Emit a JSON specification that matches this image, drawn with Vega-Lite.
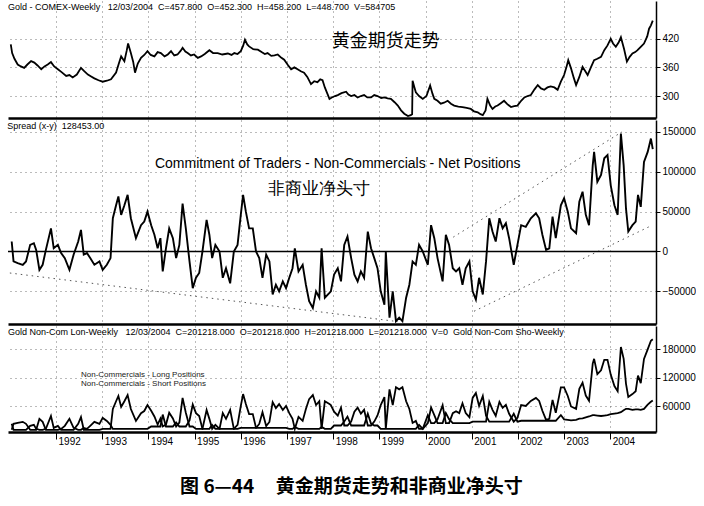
{
  "$schema": "https://vega.github.io/schema/vega-lite/v6.json",
  "padding": {"left": 7, "top": 1, "right": 0, "bottom": 4},
  "spacing": 2,
  "title": {
    "text": "图 6—44\u00a0\u00a0\u00a0\u00a0\u00a0黄金期货走势和非商业净头寸",
    "orient": "bottom",
    "anchor": "middle",
    "font": "Noto Sans CJK SC",
    "fontSize": 19,
    "fontWeight": "bold",
    "color": "black",
    "offset": 32
  },
  "datasets": {
    "gold": [
      {"t": 1991.02, "g": 408}, {"t": 1991.05, "g": 390}, {"t": 1991.10, "g": 378}, {"t": 1991.17, "g": 366},
      {"t": 1991.24, "g": 362}, {"t": 1991.31, "g": 359}, {"t": 1991.38, "g": 366}, {"t": 1991.46, "g": 373},
      {"t": 1991.53, "g": 370}, {"t": 1991.60, "g": 364}, {"t": 1991.68, "g": 356}, {"t": 1991.75, "g": 362},
      {"t": 1991.82, "g": 366}, {"t": 1991.89, "g": 371}, {"t": 1991.96, "g": 362}, {"t": 1992.04, "g": 356},
      {"t": 1992.12, "g": 350}, {"t": 1992.22, "g": 342}, {"t": 1992.29, "g": 344}, {"t": 1992.36, "g": 339},
      {"t": 1992.45, "g": 345}, {"t": 1992.54, "g": 359}, {"t": 1992.61, "g": 352}, {"t": 1992.69, "g": 345},
      {"t": 1992.76, "g": 341}, {"t": 1992.83, "g": 337}, {"t": 1992.92, "g": 333}, {"t": 1993.01, "g": 330},
      {"t": 1993.10, "g": 332}, {"t": 1993.19, "g": 335}, {"t": 1993.30, "g": 349}, {"t": 1993.36, "g": 368},
      {"t": 1993.41, "g": 383}, {"t": 1993.48, "g": 373}, {"t": 1993.53, "g": 395}, {"t": 1993.56, "g": 410},
      {"t": 1993.62, "g": 390}, {"t": 1993.67, "g": 372}, {"t": 1993.71, "g": 349}, {"t": 1993.77, "g": 368},
      {"t": 1993.84, "g": 380}, {"t": 1993.91, "g": 386}, {"t": 1993.98, "g": 394}, {"t": 1994.05, "g": 386},
      {"t": 1994.13, "g": 383}, {"t": 1994.20, "g": 392}, {"t": 1994.27, "g": 390}, {"t": 1994.35, "g": 383},
      {"t": 1994.42, "g": 387}, {"t": 1994.49, "g": 394}, {"t": 1994.56, "g": 385}, {"t": 1994.63, "g": 387},
      {"t": 1994.70, "g": 395}, {"t": 1994.74, "g": 401}, {"t": 1994.80, "g": 393}, {"t": 1994.85, "g": 390},
      {"t": 1994.92, "g": 385}, {"t": 1994.99, "g": 387}, {"t": 1995.07, "g": 380}, {"t": 1995.14, "g": 383},
      {"t": 1995.22, "g": 388}, {"t": 1995.32, "g": 396}, {"t": 1995.40, "g": 390}, {"t": 1995.50, "g": 390},
      {"t": 1995.60, "g": 387}, {"t": 1995.72, "g": 389}, {"t": 1995.80, "g": 386}, {"t": 1995.86, "g": 390},
      {"t": 1995.93, "g": 388}, {"t": 1996.00, "g": 394}, {"t": 1996.05, "g": 405}, {"t": 1996.09, "g": 418},
      {"t": 1996.14, "g": 408}, {"t": 1996.18, "g": 404}, {"t": 1996.27, "g": 398}, {"t": 1996.37, "g": 397},
      {"t": 1996.45, "g": 392}, {"t": 1996.52, "g": 388}, {"t": 1996.58, "g": 390}, {"t": 1996.66, "g": 384},
      {"t": 1996.73, "g": 385}, {"t": 1996.80, "g": 387}, {"t": 1996.88, "g": 380}, {"t": 1996.94, "g": 376},
      {"t": 1997.02, "g": 365}, {"t": 1997.09, "g": 356}, {"t": 1997.16, "g": 360}, {"t": 1997.23, "g": 356},
      {"t": 1997.30, "g": 352}, {"t": 1997.37, "g": 349}, {"t": 1997.44, "g": 340}, {"t": 1997.52, "g": 325},
      {"t": 1997.59, "g": 331}, {"t": 1997.66, "g": 329}, {"t": 1997.72, "g": 335}, {"t": 1997.77, "g": 333},
      {"t": 1997.82, "g": 318}, {"t": 1997.87, "g": 306}, {"t": 1997.92, "g": 294}, {"t": 1997.97, "g": 297},
      {"t": 1998.04, "g": 300}, {"t": 1998.10, "g": 302}, {"t": 1998.18, "g": 306}, {"t": 1998.28, "g": 309},
      {"t": 1998.33, "g": 303}, {"t": 1998.39, "g": 300}, {"t": 1998.46, "g": 302}, {"t": 1998.53, "g": 297},
      {"t": 1998.60, "g": 300}, {"t": 1998.67, "g": 302}, {"t": 1998.74, "g": 297}, {"t": 1998.82, "g": 297},
      {"t": 1998.89, "g": 302}, {"t": 1998.96, "g": 300}, {"t": 1999.04, "g": 296}, {"t": 1999.11, "g": 297},
      {"t": 1999.18, "g": 295}, {"t": 1999.25, "g": 294}, {"t": 1999.33, "g": 287}, {"t": 1999.40, "g": 280},
      {"t": 1999.47, "g": 270}, {"t": 1999.54, "g": 263}, {"t": 1999.62, "g": 258}, {"t": 1999.68, "g": 260},
      {"t": 1999.71, "g": 262}, {"t": 1999.72, "g": 332}, {"t": 1999.76, "g": 318}, {"t": 1999.79, "g": 308},
      {"t": 1999.86, "g": 300}, {"t": 1999.94, "g": 294}, {"t": 2000.02, "g": 300}, {"t": 2000.10, "g": 322},
      {"t": 2000.15, "g": 305}, {"t": 2000.19, "g": 294}, {"t": 2000.26, "g": 290}, {"t": 2000.33, "g": 284},
      {"t": 2000.40, "g": 286}, {"t": 2000.48, "g": 290}, {"t": 2000.55, "g": 284}, {"t": 2000.62, "g": 280},
      {"t": 2000.71, "g": 278}, {"t": 2000.80, "g": 277}, {"t": 2000.89, "g": 275}, {"t": 2000.98, "g": 273},
      {"t": 2001.05, "g": 268}, {"t": 2001.13, "g": 266}, {"t": 2001.19, "g": 262}, {"t": 2001.24, "g": 260},
      {"t": 2001.30, "g": 270}, {"t": 2001.34, "g": 294}, {"t": 2001.40, "g": 280}, {"t": 2001.45, "g": 273},
      {"t": 2001.51, "g": 278}, {"t": 2001.56, "g": 280}, {"t": 2001.63, "g": 285}, {"t": 2001.70, "g": 290},
      {"t": 2001.77, "g": 283}, {"t": 2001.85, "g": 277}, {"t": 2001.92, "g": 279}, {"t": 2001.99, "g": 280},
      {"t": 2002.07, "g": 290}, {"t": 2002.14, "g": 297}, {"t": 2002.21, "g": 300}, {"t": 2002.28, "g": 302},
      {"t": 2002.36, "g": 314}, {"t": 2002.43, "g": 323}, {"t": 2002.50, "g": 316}, {"t": 2002.57, "g": 313},
      {"t": 2002.64, "g": 318}, {"t": 2002.71, "g": 320}, {"t": 2002.79, "g": 318}, {"t": 2002.86, "g": 313},
      {"t": 2002.93, "g": 330}, {"t": 2003.00, "g": 344}, {"t": 2003.05, "g": 360}, {"t": 2003.09, "g": 375},
      {"t": 2003.15, "g": 358}, {"t": 2003.21, "g": 338}, {"t": 2003.26, "g": 323}, {"t": 2003.33, "g": 340},
      {"t": 2003.40, "g": 361}, {"t": 2003.46, "g": 352}, {"t": 2003.51, "g": 344}, {"t": 2003.58, "g": 360},
      {"t": 2003.65, "g": 375}, {"t": 2003.72, "g": 378}, {"t": 2003.80, "g": 382}, {"t": 2003.87, "g": 396},
      {"t": 2003.94, "g": 406}, {"t": 2004.01, "g": 420}, {"t": 2004.06, "g": 410}, {"t": 2004.12, "g": 403},
      {"t": 2004.18, "g": 412}, {"t": 2004.23, "g": 423}, {"t": 2004.30, "g": 398}, {"t": 2004.36, "g": 372},
      {"t": 2004.42, "g": 382}, {"t": 2004.48, "g": 389}, {"t": 2004.54, "g": 392}, {"t": 2004.59, "g": 396},
      {"t": 2004.66, "g": 403}, {"t": 2004.73, "g": 410}, {"t": 2004.80, "g": 425}, {"t": 2004.84, "g": 441},
      {"t": 2004.88, "g": 448}, {"t": 2004.92, "g": 457.8}
    ],
    "cot": [
      {"t": 1991.04, "n": 12500, "l": 23500, "s": 11000}, {"t": 1991.08, "n": -12500, "l": 11000, "s": 23500},
      {"t": 1991.17, "n": -14600, "l": 11000, "s": 25600}, {"t": 1991.28, "n": -16700, "l": 11000, "s": 27700},
      {"t": 1991.35, "n": -12500, "l": 11000, "s": 23500}, {"t": 1991.44, "n": 8300, "l": 19300, "s": 11000},
      {"t": 1991.52, "n": 10400, "l": 21400, "s": 11000}, {"t": 1991.57, "n": 2000, "l": 13000, "s": 11000},
      {"t": 1991.64, "n": -23000, "l": 11000, "s": 34000}, {"t": 1991.71, "n": -16700, "l": 11000, "s": 27700},
      {"t": 1991.78, "n": 2000, "l": 13000, "s": 11000}, {"t": 1991.89, "n": 29000, "l": 40000, "s": 11000},
      {"t": 1991.95, "n": 4000, "l": 15000, "s": 11000}, {"t": 1992.04, "n": 8300, "l": 19300, "s": 11000},
      {"t": 1992.11, "n": -2000, "l": 11000, "s": 13000}, {"t": 1992.19, "n": -8300, "l": 11000, "s": 19300},
      {"t": 1992.29, "n": -23000, "l": 11000, "s": 34000}, {"t": 1992.38, "n": -4000, "l": 11000, "s": 15000},
      {"t": 1992.48, "n": 12500, "l": 23500, "s": 11000}, {"t": 1992.54, "n": 27000, "l": 38000, "s": 11000},
      {"t": 1992.60, "n": -4000, "l": 11000, "s": 15000}, {"t": 1992.67, "n": -2000, "l": 11000, "s": 13000},
      {"t": 1992.74, "n": -8300, "l": 11000, "s": 19300}, {"t": 1992.83, "n": -16700, "l": 11000, "s": 27700},
      {"t": 1992.94, "n": -12500, "l": 11000, "s": 23500}, {"t": 1993.01, "n": -23000, "l": 13000, "s": 36000},
      {"t": 1993.10, "n": -16700, "l": 13000, "s": 29700}, {"t": 1993.18, "n": -8300, "l": 13000, "s": 21300},
      {"t": 1993.23, "n": 41700, "l": 54700, "s": 13000}, {"t": 1993.30, "n": 58000, "l": 71000, "s": 13000},
      {"t": 1993.35, "n": 69000, "l": 82000, "s": 13000}, {"t": 1993.41, "n": 46000, "l": 59000, "s": 13000},
      {"t": 1993.48, "n": 58000, "l": 71000, "s": 13000}, {"t": 1993.55, "n": 71000, "l": 84000, "s": 13000},
      {"t": 1993.62, "n": 41700, "l": 54700, "s": 13000}, {"t": 1993.73, "n": 16700, "l": 29700, "s": 13000},
      {"t": 1993.84, "n": 33000, "l": 46000, "s": 13000}, {"t": 1993.91, "n": 37500, "l": 50500, "s": 13000},
      {"t": 1993.98, "n": 50000, "l": 63000, "s": 13000}, {"t": 1994.06, "n": 33000, "l": 51000, "s": 18000},
      {"t": 1994.13, "n": 21000, "l": 39000, "s": 18000}, {"t": 1994.20, "n": 4000, "l": 22000, "s": 18000},
      {"t": 1994.26, "n": 16700, "l": 34700, "s": 18000}, {"t": 1994.31, "n": -25000, "l": 18000, "s": 43000},
      {"t": 1994.38, "n": 4000, "l": 22000, "s": 18000}, {"t": 1994.45, "n": 29000, "l": 47000, "s": 18000},
      {"t": 1994.53, "n": 16700, "l": 34700, "s": 18000}, {"t": 1994.60, "n": -8300, "l": 18000, "s": 26300},
      {"t": 1994.67, "n": 8300, "l": 26300, "s": 18000}, {"t": 1994.74, "n": 60000, "l": 78000, "s": 18000},
      {"t": 1994.81, "n": 29000, "l": 47000, "s": 18000}, {"t": 1994.89, "n": -12500, "l": 18000, "s": 30500},
      {"t": 1994.96, "n": -46000, "l": 18000, "s": 64000}, {"t": 1995.03, "n": -33000, "l": 13000, "s": 46000},
      {"t": 1995.10, "n": -27000, "l": 13000, "s": 40000}, {"t": 1995.17, "n": 0, "l": 13000, "s": 13000},
      {"t": 1995.26, "n": 39600, "l": 52600, "s": 13000}, {"t": 1995.32, "n": 21000, "l": 34000, "s": 13000},
      {"t": 1995.38, "n": -8300, "l": 13000, "s": 21300}, {"t": 1995.45, "n": 8300, "l": 21300, "s": 13000},
      {"t": 1995.54, "n": 0, "l": 13000, "s": 13000}, {"t": 1995.61, "n": -33000, "l": 13000, "s": 46000},
      {"t": 1995.68, "n": -21000, "l": 13000, "s": 34000}, {"t": 1995.77, "n": -40000, "l": 13000, "s": 53000},
      {"t": 1995.85, "n": 0, "l": 13000, "s": 13000}, {"t": 1995.93, "n": 8300, "l": 21300, "s": 13000},
      {"t": 1996.00, "n": 46000, "l": 61000, "s": 15000}, {"t": 1996.05, "n": 71000, "l": 86000, "s": 15000},
      {"t": 1996.11, "n": 50000, "l": 65000, "s": 15000}, {"t": 1996.18, "n": 29000, "l": 44000, "s": 15000},
      {"t": 1996.26, "n": 29000, "l": 44000, "s": 15000}, {"t": 1996.33, "n": 0, "l": 15000, "s": 15000},
      {"t": 1996.40, "n": -8300, "l": 15000, "s": 23300}, {"t": 1996.47, "n": -33000, "l": 15000, "s": 48000},
      {"t": 1996.55, "n": -4000, "l": 15000, "s": 19000}, {"t": 1996.62, "n": -12500, "l": 15000, "s": 27500},
      {"t": 1996.69, "n": -54000, "l": 15000, "s": 69000}, {"t": 1996.76, "n": -41700, "l": 15000, "s": 56700},
      {"t": 1996.83, "n": -50000, "l": 15000, "s": 65000}, {"t": 1996.91, "n": -37500, "l": 15000, "s": 52500},
      {"t": 1996.98, "n": -46000, "l": 15000, "s": 61000}, {"t": 1997.05, "n": -33000, "l": 13000, "s": 46000},
      {"t": 1997.12, "n": -21000, "l": 13000, "s": 34000}, {"t": 1997.17, "n": 4000, "l": 17000, "s": 13000},
      {"t": 1997.25, "n": -25000, "l": 13000, "s": 38000}, {"t": 1997.34, "n": -16700, "l": 13000, "s": 29700},
      {"t": 1997.41, "n": -41700, "l": 13000, "s": 54700}, {"t": 1997.48, "n": -62500, "l": 13000, "s": 75500},
      {"t": 1997.56, "n": -71000, "l": 13000, "s": 84000}, {"t": 1997.63, "n": -50000, "l": 13000, "s": 63000},
      {"t": 1997.70, "n": -58000, "l": 13000, "s": 71000}, {"t": 1997.75, "n": 4000, "l": 17000, "s": 13000},
      {"t": 1997.82, "n": -58000, "l": 13000, "s": 71000}, {"t": 1997.92, "n": -52000, "l": 13000, "s": 65000},
      {"t": 1997.95, "n": -50000, "l": 13000, "s": 63000}, {"t": 1998.02, "n": -29000, "l": 20000, "s": 49000},
      {"t": 1998.10, "n": -21000, "l": 20000, "s": 41000}, {"t": 1998.17, "n": -37500, "l": 20000, "s": 57500},
      {"t": 1998.24, "n": 8300, "l": 28300, "s": 20000}, {"t": 1998.31, "n": 18800, "l": 38800, "s": 20000},
      {"t": 1998.39, "n": -8300, "l": 20000, "s": 28300}, {"t": 1998.46, "n": -29000, "l": 20000, "s": 49000},
      {"t": 1998.53, "n": -37500, "l": 20000, "s": 57500}, {"t": 1998.60, "n": -25000, "l": 20000, "s": 45000},
      {"t": 1998.67, "n": -33000, "l": 20000, "s": 53000}, {"t": 1998.75, "n": 25000, "l": 45000, "s": 20000},
      {"t": 1998.82, "n": 4000, "l": 24000, "s": 20000}, {"t": 1998.89, "n": -8300, "l": 20000, "s": 28300},
      {"t": 1998.96, "n": -21000, "l": 20000, "s": 41000}, {"t": 1999.03, "n": -50000, "l": 13000, "s": 63000},
      {"t": 1999.11, "n": -66700, "l": 13000, "s": 79700}, {"t": 1999.14, "n": 0, "l": 13000, "s": 13000},
      {"t": 1999.22, "n": -83000, "l": 13000, "s": 96000}, {"t": 1999.29, "n": -50000, "l": 13000, "s": 63000},
      {"t": 1999.36, "n": -87500, "l": 13000, "s": 100500}, {"t": 1999.43, "n": -83000, "l": 13000, "s": 96000},
      {"t": 1999.50, "n": -87500, "l": 13000, "s": 100500}, {"t": 1999.58, "n": -58000, "l": 13000, "s": 71000},
      {"t": 1999.65, "n": -41700, "l": 13000, "s": 54700}, {"t": 1999.72, "n": -12500, "l": 13000, "s": 25500},
      {"t": 1999.79, "n": -16700, "l": 13000, "s": 29700}, {"t": 1999.86, "n": 8300, "l": 21300, "s": 13000},
      {"t": 1999.94, "n": 0, "l": 13000, "s": 13000}, {"t": 2000.05, "n": -16700, "l": 25000, "s": 41700},
      {"t": 2000.12, "n": 33000, "l": 58000, "s": 25000}, {"t": 2000.19, "n": 16700, "l": 41700, "s": 25000},
      {"t": 2000.26, "n": -8300, "l": 25000, "s": 33300}, {"t": 2000.37, "n": -37500, "l": 25000, "s": 62500},
      {"t": 2000.44, "n": 21000, "l": 46000, "s": 25000}, {"t": 2000.51, "n": 8300, "l": 33300, "s": 25000},
      {"t": 2000.59, "n": -21000, "l": 25000, "s": 46000}, {"t": 2000.66, "n": -25000, "l": 25000, "s": 50000},
      {"t": 2000.73, "n": -21000, "l": 25000, "s": 46000}, {"t": 2000.80, "n": -41700, "l": 25000, "s": 66700},
      {"t": 2000.87, "n": -21000, "l": 25000, "s": 46000}, {"t": 2000.95, "n": -12500, "l": 25000, "s": 37500},
      {"t": 2001.02, "n": -50000, "l": 28000, "s": 78000}, {"t": 2001.09, "n": -60400, "l": 28000, "s": 88400},
      {"t": 2001.16, "n": -33000, "l": 28000, "s": 61000}, {"t": 2001.24, "n": -54000, "l": 28000, "s": 82000},
      {"t": 2001.31, "n": -12500, "l": 28000, "s": 40500}, {"t": 2001.38, "n": 41700, "l": 69700, "s": 28000},
      {"t": 2001.45, "n": 25000, "l": 53000, "s": 28000}, {"t": 2001.52, "n": 12500, "l": 40500, "s": 28000},
      {"t": 2001.60, "n": 41700, "l": 69700, "s": 28000}, {"t": 2001.67, "n": 29000, "l": 57000, "s": 28000},
      {"t": 2001.74, "n": 35400, "l": 63400, "s": 28000}, {"t": 2001.81, "n": 16700, "l": 44700, "s": 28000},
      {"t": 2001.91, "n": -16700, "l": 28000, "s": 44700}, {"t": 2001.99, "n": 8300, "l": 36300, "s": 28000},
      {"t": 2002.07, "n": 33000, "l": 63000, "s": 30000}, {"t": 2002.17, "n": 31000, "l": 61000, "s": 30000},
      {"t": 2002.28, "n": 41700, "l": 71700, "s": 30000}, {"t": 2002.39, "n": 48000, "l": 78000, "s": 30000},
      {"t": 2002.46, "n": 41700, "l": 71700, "s": 30000}, {"t": 2002.53, "n": 21000, "l": 51000, "s": 30000},
      {"t": 2002.61, "n": 2000, "l": 32000, "s": 30000}, {"t": 2002.68, "n": 4000, "l": 34000, "s": 30000},
      {"t": 2002.75, "n": 43800, "l": 73800, "s": 30000}, {"t": 2002.82, "n": 16700, "l": 46700, "s": 30000},
      {"t": 2002.93, "n": 58000, "l": 100000, "s": 42000}, {"t": 2003.00, "n": 66700, "l": 100000, "s": 33000},
      {"t": 2003.08, "n": 50000, "l": 82000, "s": 32000}, {"t": 2003.15, "n": 29000, "l": 60000, "s": 31000},
      {"t": 2003.26, "n": 23000, "l": 55000, "s": 32000}, {"t": 2003.33, "n": 62500, "l": 97000, "s": 34500},
      {"t": 2003.40, "n": 75000, "l": 110000, "s": 35000}, {"t": 2003.47, "n": 46000, "l": 83000, "s": 37000},
      {"t": 2003.54, "n": 33000, "l": 72000, "s": 39000}, {"t": 2003.62, "n": 108000, "l": 150000, "s": 42000},
      {"t": 2003.65, "n": 125000, "l": 160000, "s": 42000}, {"t": 2003.72, "n": 87500, "l": 128000, "s": 41000},
      {"t": 2003.80, "n": 96000, "l": 136000, "s": 40000}, {"t": 2003.87, "n": 117000, "l": 158000, "s": 41000},
      {"t": 2003.94, "n": 121000, "l": 158000, "s": 42000}, {"t": 2004.01, "n": 83000, "l": 127000, "s": 44000},
      {"t": 2004.09, "n": 58000, "l": 103000, "s": 45000}, {"t": 2004.16, "n": 46000, "l": 92000, "s": 46000},
      {"t": 2004.23, "n": 148000, "l": 185000, "s": 48000}, {"t": 2004.29, "n": 108000, "l": 160000, "s": 52000},
      {"t": 2004.34, "n": 54000, "l": 108000, "s": 55000}, {"t": 2004.39, "n": 25000, "l": 80000, "s": 55000},
      {"t": 2004.48, "n": 33000, "l": 86000, "s": 53000}, {"t": 2004.55, "n": 37500, "l": 92000, "s": 54000},
      {"t": 2004.60, "n": 71000, "l": 125000, "s": 54000}, {"t": 2004.66, "n": 56000, "l": 109000, "s": 53000},
      {"t": 2004.73, "n": 112500, "l": 160000, "s": 55000}, {"t": 2004.81, "n": 125000, "l": 180000, "s": 64000},
      {"t": 2004.88, "n": 141700, "l": 198000, "s": 70000}, {"t": 2004.92, "n": 128453, "l": 201218, "s": 72765}
    ],
    "trend": [
      {"t1": 1991.0, "n1": -27000, "t2": 1999.4, "n2": -88000},
      {"t1": 2000.6, "n1": 18000, "t2": 2004.25, "n2": 150000},
      {"t1": 2001.05, "n1": -75000, "t2": 2004.91, "n2": 33000}
    ]
  },
  "config": {
    "view": {"stroke": null},
    "font": "Liberation Sans",
    "axis": {
      "labelFont": "Liberation Sans",
      "labelFontSize": 10,
      "labelColor": "black",
      "tickColor": "black",
      "domainColor": "black",
      "grid": true,
      "gridColor": "#555555",
      "gridDash": [1, 4],
      "gridWidth": 1,
      "gridOpacity": 0.8
    },
    "title": {"color": "black"}
  },
  "vconcat": [
    {
      "width": 648,
      "height": 117,
      "title": {
        "text": "Gold - COMEX-Weekly\u00a0\u00a0\u00a012/03/2004\u00a0\u00a0C=457.800\u00a0\u00a0O=452.300\u00a0\u00a0H=458.200\u00a0\u00a0L=448.700\u00a0\u00a0V=584705",
        "anchor": "start",
        "fontSize": 9,
        "fontWeight": "normal",
        "font": "Liberation Sans",
        "offset": -11
      },
      "layer": [
        {
          "data": {"name": "gold"},
          "mark": {"type": "line", "color": "black", "strokeWidth": 1.8, "clip": true},
          "encoding": {
            "x": {
              "field": "t", "type": "quantitative",
              "scale": {"domain": [1990.96, 2004.99], "nice": false, "zero": false},
              "axis": {"title": null, "labels": false, "ticks": false, "domainWidth": 2.5, "values": [1992, 1993, 1994, 1995, 1996, 1997, 1998, 1999, 2000, 2001, 2002, 2003, 2004]}
            },
            "y": {
              "field": "g", "type": "quantitative",
              "scale": {"domain": [254, 499], "nice": false, "zero": false},
              "axis": {"title": null, "orient": "right", "values": [300, 330, 360, 390, 420, 450], "labelExpr": "datum.value % 60 == 0 ? datum.label : ''", "tickSize": 4, "labelPadding": 2, "domainWidth": 1.5}
            }
          }
        },
        {
          "data": {"values": [{"t": 1999.14, "g": 414, "label": "黄金期货走势"}]},
          "mark": {"type": "text", "font": "Noto Sans CJK SC", "fontSize": 18, "color": "black"},
          "encoding": {
            "x": {"field": "t", "type": "quantitative"},
            "y": {"field": "g", "type": "quantitative"},
            "text": {"field": "label"}
          }
        }
      ]
    },
    {
      "width": 648,
      "height": 204,
      "title": {
        "text": "Spread (x-y)\u00a0\u00a0128453.00",
        "anchor": "start",
        "fontSize": 9,
        "fontWeight": "normal",
        "font": "Liberation Sans",
        "offset": -11
      },
      "layer": [
        {
          "data": {"name": "trend"},
          "mark": {"type": "rule", "color": "#555555", "strokeDash": [1.5, 4], "strokeWidth": 1},
          "encoding": {
            "x": {"field": "t1", "type": "quantitative", "scale": {"domain": [1990.96, 2004.99], "nice": false, "zero": false},
              "axis": {"title": null, "labels": false, "ticks": false, "domainWidth": 2.5, "values": [1992, 1993, 1994, 1995, 1996, 1997, 1998, 1999, 2000, 2001, 2002, 2003, 2004]}},
            "x2": {"field": "t2"},
            "y": {"field": "n1", "type": "quantitative", "scale": {"domain": [-91000, 165000], "nice": false, "zero": false},
              "axis": {"title": null, "orient": "right", "values": [-50000, 0, 50000, 100000, 150000], "format": "d", "tickSize": 4, "labelPadding": 2, "domainWidth": 1.5}},
            "y2": {"field": "n2"}
          }
        },
        {
          "data": {"values": [{"v": 0}]},
          "mark": {"type": "rule", "color": "black", "strokeWidth": 1.5},
          "encoding": {"y": {"field": "v", "type": "quantitative"}}
        },
        {
          "data": {"name": "cot"},
          "mark": {"type": "line", "color": "black", "strokeWidth": 1.9, "clip": true},
          "encoding": {
            "x": {"field": "t", "type": "quantitative"},
            "y": {"field": "n", "type": "quantitative"}
          }
        },
        {
          "data": {"values": [
            {"t": 1998.10, "n": 110000, "label": "Commitment of Traders - Non-Commercials - Net Positions", "f": "Liberation Sans", "z": 14},
            {"t": 1997.69, "n": 79000, "label": "非商业净头寸", "f": "Noto Sans CJK SC", "z": 17}
          ]},
          "mark": {"type": "text", "color": "black"},
          "encoding": {
            "x": {"field": "t", "type": "quantitative"},
            "y": {"field": "n", "type": "quantitative"},
            "text": {"field": "label"},
            "font": {"field": "f"},
            "size": {"field": "z", "type": "quantitative", "scale": null}
          }
        }
      ]
    },
    {
      "width": 648,
      "height": 106,
      "title": {
        "text": "Gold Non-Com Lon-Weekly\u00a0\u00a0\u00a012/03/2004\u00a0\u00a0C=201218.000\u00a0\u00a0O=201218.000\u00a0\u00a0H=201218.000\u00a0\u00a0L=201218.000\u00a0\u00a0V=0\u00a0\u00a0Gold Non-Com Sho-Weekly",
        "anchor": "start",
        "fontSize": 9,
        "fontWeight": "normal",
        "font": "Liberation Sans",
        "offset": -11
      },
      "layer": [
        {
          "data": {"name": "cot"},
          "mark": {"type": "line", "color": "black", "strokeWidth": 1.8, "clip": true},
          "encoding": {
            "x": {
              "field": "t", "type": "quantitative",
              "scale": {"domain": [1990.96, 2004.99], "nice": false, "zero": false},
              "axis": {"title": null, "values": [1992, 1993, 1994, 1995, 1996, 1997, 1998, 1999, 2000, 2001, 2002, 2003, 2004], "format": "d", "labelAlign": "left", "labelOffset": 2, "tickSize": 7, "labelPadding": -3, "domainWidth": 2.5}
            },
            "y": {
              "field": "l", "type": "quantitative",
              "scale": {"domain": [6400, 229000], "nice": false, "zero": false},
              "axis": {"title": null, "orient": "right", "values": [60000, 120000, 180000], "format": "d", "tickSize": 4, "labelPadding": 2, "domainWidth": 1.5}
            }
          }
        },
        {
          "data": {"name": "cot"},
          "mark": {"type": "line", "color": "black", "strokeWidth": 1.8, "clip": true},
          "encoding": {
            "x": {"field": "t", "type": "quantitative"},
            "y": {"field": "s", "type": "quantitative"}
          }
        },
        {
          "data": {"values": [
            {"t": 1992.54, "v": 127000, "label": "Non-Commercials - Long Positions"},
            {"t": 1992.54, "v": 108000, "label": "Non-Commercials - Short Positions"}
          ]},
          "mark": {"type": "text", "align": "left", "fontSize": 8, "font": "Liberation Sans", "color": "#222222"},
          "encoding": {
            "x": {"field": "t", "type": "quantitative"},
            "y": {"field": "v", "type": "quantitative"},
            "text": {"field": "label"}
          }
        }
      ]
    }
  ]
}
